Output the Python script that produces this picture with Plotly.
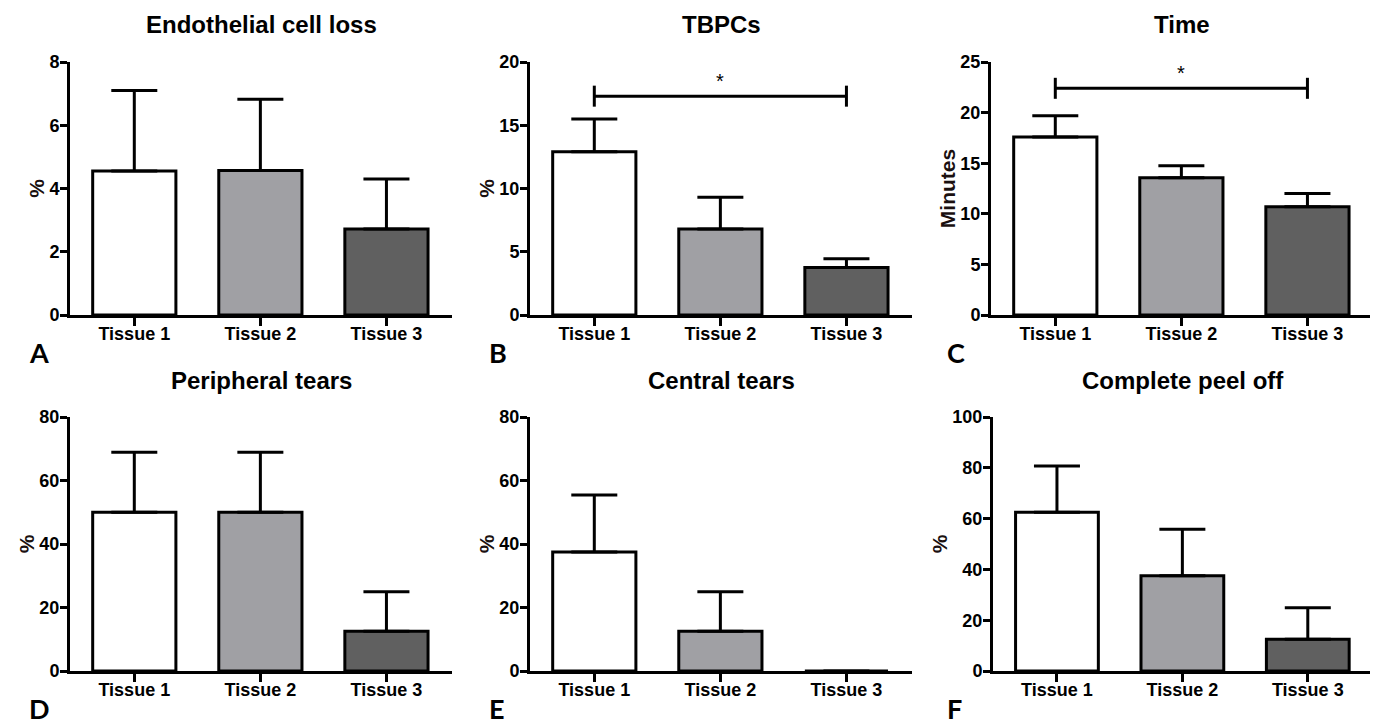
import plotly.graph_objects as go

categories = ["Tissue 1", "Tissue 2", "Tissue 3"]
bar_colors = ["#ffffff", "#a0a0a4", "#606060"]

titles = ["Endothelial cell loss", "TBPCs", "Time",
          "Peripheral tears", "Central tears", "Complete peel off"]
panel_letters = ["A", "B", "C", "D", "E", "F"]
y_titles = ["%", "%", "Minutes", "%", "%", "%"]

endo_mean = [4.55, 4.57, 2.72]
endo_err = [2.55, 2.25, 1.58]
tbpc_mean = [12.9, 6.8, 3.75]
tbpc_err = [2.6, 2.5, 0.7]
time_mean = [17.6, 13.55, 10.7]
time_err = [2.1, 1.2, 1.3]
periph_mean = [50.0, 50.0, 12.5]
periph_err = [18.9, 18.9, 12.5]
central_mean = [37.5, 12.5, 0.0]
central_err = [17.9, 12.5, 0.0]
peel_mean = [62.5, 37.5, 12.5]
peel_err = [18.2, 18.3, 12.4]

y_max = [8, 20, 25, 80, 80, 100]
y_step = [2, 5, 5, 20, 20, 20]

# significance brackets (pair of category indices and bracket height)
sig_pair = [0, 2]
sig_y = [None, 17.3, 22.4, None, None, None]
sig_label = "*"

means = [endo_mean, tbpc_mean, time_mean, periph_mean, central_mean, peel_mean]
errs = [endo_err, tbpc_err, time_err, periph_err, central_err, peel_err]

# page has an 8px body margin; figure reaches the window's right/bottom edges
OFF = 8
W, H = 1378 - OFF, 719 - OFF


def fx(px):
    return min(max((px - OFF) / W, 0.0), 1.0)


def fy(py):
    return min(max(1 - (py - OFF) / H, 0.0), 1.0)


# panel plot areas in window pixels (left, right, top, bottom)
px_boxes = [(70, 452, 62, 315), (530, 912, 62, 315), (991, 1373, 62, 315),
            (70, 452, 417, 671), (530, 912, 417, 671), (993, 1373, 417, 671)]
letter_pos = [(27, 352), (487, 352), (945, 352), (27, 708), (487, 708), (945, 708)]
title_y_px = [24, 24, 24, 380, 380, 380]

FONT = "Liberation Sans"
fig = go.Figure()
annotations = []

for i in range(6):
    xa = "x" if i == 0 else f"x{i+1}"
    ya = "y" if i == 0 else f"y{i+1}"
    fig.add_trace(go.Bar(
        x=list(range(3)), y=means[i], xaxis=xa, yaxis=ya, width=0.66,
        marker=dict(color=bar_colors, line=dict(color="black", width=3)),
        error_y=dict(type="data", symmetric=False, array=errs[i],
                     arrayminus=[0, 0, 0], color="black", thickness=3, width=23),
        showlegend=False, hoverinfo="skip"))
    if sig_y[i] is not None:
        fig.add_trace(go.Scatter(
            x=sig_pair, y=[sig_y[i], sig_y[i]], xaxis=xa, yaxis=ya,
            mode="lines+markers", line=dict(color="black", width=3),
            marker=dict(symbol="line-ns", size=15, line=dict(color="black", width=3)),
            showlegend=False, hoverinfo="skip"))
        annotations.append(dict(
            x=sum(sig_pair) / 2, y=sig_y[i], xref=xa, yref=ya, text=sig_label,
            showarrow=False, yanchor="bottom", yshift=2,
            font=dict(family=FONT, size=20, color="black")))

    l, r, t, b = px_boxes[i]
    ax_key = "xaxis" if i == 0 else f"xaxis{i+1}"
    ay_key = "yaxis" if i == 0 else f"yaxis{i+1}"
    fig.update_layout(**{
        ax_key: dict(domain=[fx(l), fx(r)], anchor=ya, range=[-0.51, 2.52],
                     automargin=False, ticklabelstandoff=-8,
                     tickmode="array", tickvals=list(range(3)), ticktext=categories,
                     showline=True, linecolor="black", linewidth=3,
                     ticks="outside", ticklen=8, tickwidth=3, tickcolor="black",
                     showgrid=False, zeroline=False, fixedrange=True,
                     tickfont=dict(family=FONT, size=18, color="black", weight="bold")),
        ay_key: dict(domain=[fy(b), fy(t)], anchor=xa, range=[0, y_max[i]],
                     automargin=False, ticklabelstandoff=-3,
                     dtick=y_step[i], tick0=0,
                     showline=True, linecolor="black", linewidth=3,
                     ticks="outside", ticklen=7, tickwidth=3, tickcolor="black",
                     showgrid=False, zeroline=False, fixedrange=True,
                     tickfont=dict(family=FONT, size=18, color="black", weight="bold"),
                     title=dict(text=y_titles[i], standoff=0,
                                font=dict(family=FONT, size=21, color="#1a1010", weight="bold"))),
    })
    annotations.append(dict(
        x=fx((l + r) / 2), y=fy(title_y_px[i]), xref="paper", yref="paper",
        text=f"<b>{titles[i]}</b>", showarrow=False, xanchor="center", yanchor="middle",
        font=dict(family=FONT, size=24, color="black")))
    lx, ly = letter_pos[i]
    annotations.append(dict(
        x=fx(lx), y=fy(ly), xref="paper", yref="paper",
        text=panel_letters[i], showarrow=False, xanchor="left", yanchor="middle",
        font=dict(family="Lato", size=27, color="black", weight="bold")))

fig.update_layout(
    width=W, height=H, margin=dict(l=0, r=0, t=0, b=0),
    paper_bgcolor="white", plot_bgcolor="white",
    annotations=annotations,
)

fig.write_html("out.html", config={"displayModeBar": False})
